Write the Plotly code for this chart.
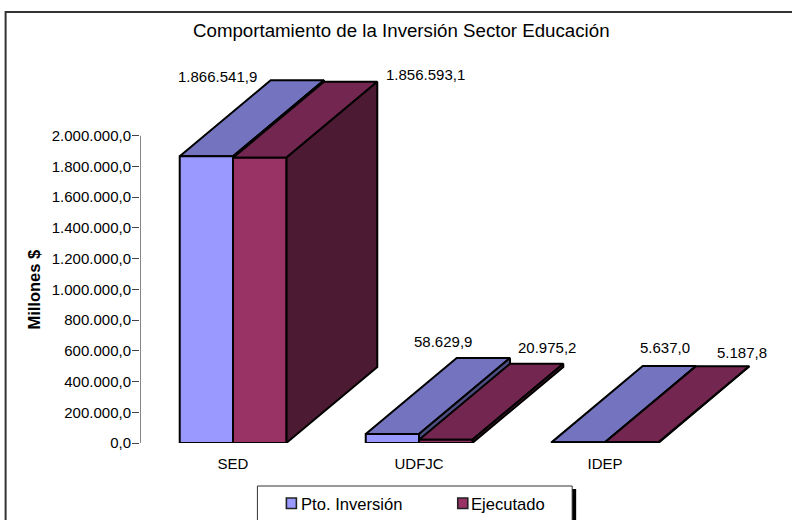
import plotly.graph_objects as go

categories = ["SED", "UDFJC", "IDEP"]
presupuesto = [1866541.9, 58629.9, 5637.0]
ejecutado = [1856593.1, 20975.2, 5187.8]
pres_labels = ["1.866.541,9", "58.629,9", "5.637,0"]
ejec_labels = ["1.856.593,1", "20.975,2", "5.187,8"]
y_ticks = [0, 200000, 400000, 600000, 800000, 1000000, 1200000, 1400000, 1600000, 1800000, 2000000]
y_ticklabels = ["0,0", "200.000,0", "400.000,0", "600.000,0", "800.000,0", "1.000.000,0",
                "1.200.000,0", "1.400.000,0", "1.600.000,0", "1.800.000,0", "2.000.000,0"]

W, H = 792, 520
L, R, T, B = 139.5, 792.0, 59.0, 443.0
CAT_PX = 186.17
XMAX = -0.5 + (R - L) / CAT_PX
YMAX = 2500000
BAR = 0.2865
DX = 0.489
DY = 495000
FONT = "Liberation Sans"
FS = 15
AXIS = "#444444"

PAL = {
    "a": dict(front="#9999FF", top="#7373BF", side="#4D4D80"),
    "b": dict(front="#993366", top="#732650", side="#4D1A33"),
}

def px(x):
    return (x - L) / (R - L)

def py(y):
    return (B - y) / (B - T)

fig = go.Figure()

def poly(xs, ys, color):
    fig.add_trace(go.Scatter(
        x=xs + xs[:1], y=ys + ys[:1], mode="lines", fill="toself", fillcolor=color, cliponaxis=False,
        line=dict(color="#000000", width=2), hoverinfo="skip", showlegend=False))

def bar3d(x0, x1, h, pal):
    poly([x0, x1, x1 + DX, x0 + DX], [h, h, h + DY, h + DY], pal["top"])
    poly([x1, x1 + DX, x1 + DX, x1], [0, DY, h + DY, h], pal["side"])
    poly([x0, x1, x1, x0], [0, 0, h, h], pal["front"])

for i in range(len(categories)):
    bar3d(i - BAR, i, presupuesto[i], PAL["a"])
    bar3d(i, i + BAR, ejecutado[i], PAL["b"])

# y axis line stops at the last tick
fig.add_trace(go.Scatter(x=[-0.5, -0.5], y=[y_ticks[0], y_ticks[-1]], mode="lines",
                         line=dict(color=AXIS, width=1.3), hoverinfo="skip",
                         showlegend=False, cliponaxis=False))

# value labels (offset from the back top of each bar, in pixels)
pres_shift = [(-80, 4), (-40, 16), (-4, 19)]
ejec_shift = [(75, 7), (10, 16), (19, 14)]
annots = []
for i in range(3):
    annots.append(dict(x=i - BAR / 2 + DX, y=presupuesto[i] + DY, text=pres_labels[i], showarrow=False,
                       xshift=pres_shift[i][0], yshift=pres_shift[i][1], xanchor="center", yanchor="middle",
                       font=dict(family=FONT, size=FS, color="#000")))
    annots.append(dict(x=i + BAR / 2 + DX, y=ejecutado[i] + DY, text=ejec_labels[i], showarrow=False,
                       xshift=ejec_shift[i][0], yshift=ejec_shift[i][1], xanchor="center", yanchor="middle",
                       font=dict(family=FONT, size=FS, color="#000")))

annots.append(dict(xref="paper", yref="paper", x=px(33), y=py(290), text="<b>Millones $</b>", textangle=-90,
                   xanchor="center", yanchor="middle", showarrow=False,
                   font=dict(family=FONT, size=16.5, color="#000")))
annots.append(dict(xref="paper", yref="paper", x=px(401), y=py(30), text="Comportamiento de la Inversión Sector Educación",
                   xanchor="center", yanchor="middle", showarrow=False,
                   font=dict(family=FONT, size=18.7, color="#000")))

shapes = [
    # outer frame, running off the right and bottom of the page
    dict(type="rect", xref="paper", yref="paper", x0=px(5), x1=px(820), y0=py(12), y1=py(560),
         line=dict(color="#333333", width=2), fillcolor="rgba(0,0,0,0)", layer="below"),
    # legend shadow and box
    dict(type="rect", xref="paper", yref="paper", x0=px(261), x1=px(576), y0=py(489), y1=py(560),
         line=dict(width=0), fillcolor="#000000", layer="below"),
    dict(type="rect", xref="paper", yref="paper", x0=px(257), x1=px(572), y0=py(486), y1=py(560),
         line=dict(color="#333333", width=1), fillcolor="#FFFFFF", layer="below"),
]

# legend keys and texts
for name, c, sx, tx in (("Pto. Inversión", PAL["a"]["front"], 286, 299),
                        ("Ejecutado", PAL["b"]["front"], 457.5, 469)):
    shapes.append(dict(type="rect", xref="paper", yref="paper", x0=px(sx), x1=px(sx + 10), y0=py(498), y1=py(508.5),
                       line=dict(color="#222222", width=1.6), fillcolor=c, layer="above"))
    annots.append(dict(xref="paper", yref="paper", x=px(tx), y=py(504), text=name, showarrow=False,
                       xanchor="left", yanchor="middle", font=dict(family=FONT, size=16.6, color="#000")))

fig.update_layout(
    width=W, height=H, autosize=False, paper_bgcolor="#FFFFFF", plot_bgcolor="rgba(0,0,0,0)",
    margin=dict(l=L, r=W - R, t=T, b=H - B, pad=0, autoexpand=False),
    font=dict(family=FONT, size=FS, color="#000000"),
    xaxis=dict(range=[-0.5, XMAX], tickmode="array", tickvals=[0, 1, 2], ticktext=categories,
               showgrid=False, zeroline=False, showline=False, ticks="outside", ticklen=7,
               tickcolor="rgba(0,0,0,0)", tickfont=dict(family=FONT, size=FS)),
    yaxis=dict(range=[0, YMAX], tickmode="array", tickvals=y_ticks, ticktext=y_ticklabels,
               showgrid=False, zeroline=False, showline=False, ticks="outside", ticklen=7,
               tickcolor=AXIS, tickwidth=1.3, ticklabelstandoff=-2, tickfont=dict(family=FONT, size=FS)),
    annotations=annots, shapes=shapes, showlegend=False,
)

fig.write_html("out.html", config=dict(displayModeBar=False),
               post_script="document.body.style.margin='0';")
